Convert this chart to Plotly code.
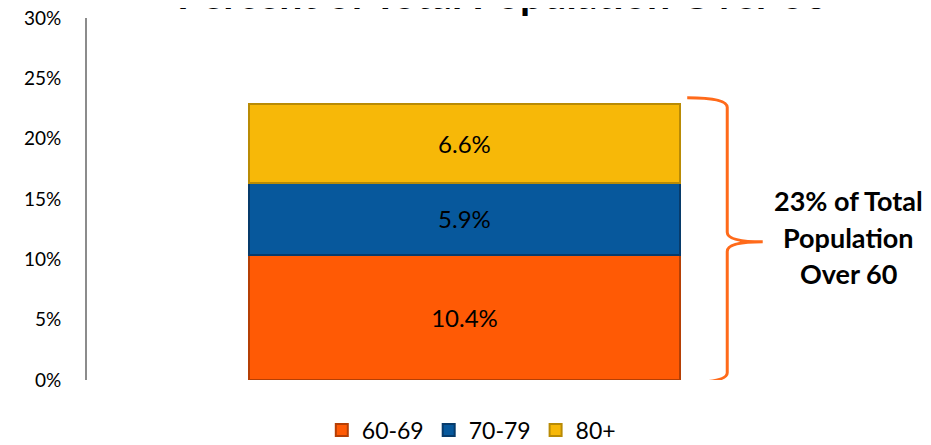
import plotly.graph_objects as go

# Share of total population by age band
categories = ['Over 60']
age_groups = ['60-69', '70-79', '80+']
shares = [10.4, 5.9, 6.6]
bar_colors = ['#FF5A05', '#07589C', '#F7B808']
edge_colors = ['#B53F05', '#073B6B', '#B98B05']
tick_vals = [0, 5, 10, 15, 20, 25, 30]
tick_text = ['0%', '5%', '10%', '15%', '20%', '25%', '30%']
note_lines = ['23% of Total', 'Population', 'Over 60']
title_text = 'Percent of Total Population Over 60'

fig = go.Figure()

for name, val, col, edge in zip(age_groups, shares, bar_colors, edge_colors):
    fig.add_trace(go.Bar(
        x=categories, y=[val], name=name,
        marker=dict(color=col, line=dict(color=edge, width=2)),
        texttemplate='%{y:.1f}%', textposition='inside',
        insidetextanchor='middle',
        textfont=dict(family='Lato', size=24, color='black'),
        hoverinfo='skip'
    ))

total = sum(shares)

# curly brace to the right of the stack
top = total + 0.5
bot = -0.2
mid = total / 2
x0, x1, x2 = 0.795, 0.848, 0.895
d = 0.8
path = (f'M {x0},{top} Q {x1},{top} {x1},{top - d} '
        f'L {x1},{mid + d} Q {x1},{mid} {x2},{mid} '
        f'Q {x1},{mid} {x1},{mid - d} '
        f'L {x1},{bot + d} Q {x1},{bot} {x0},{bot}')
fig.add_shape(type='path', path=path, xref='paper', yref='y',
              line=dict(color='#FF6A1A', width=3))

for i, line in enumerate(note_lines):
    fig.add_annotation(
        x=1.009, xref='paper', y=mid + 0.4 + 3.0 * (1 - i), yref='y',
        text='<b>' + line + '</b>', showarrow=False,
        font=dict(family='Lato', size=27, color='black'),
        xanchor='center', yanchor='middle'
    )

# title sits mostly above the top edge, as in the original
fig.add_annotation(
    x=0.550, xref='paper', y=1.069, yref='paper',
    text='<b>' + title_text + '</b>', showarrow=False,
    font=dict(family='Lato', size=41, color='black'),
    xanchor='center', yanchor='middle'
)

# page body has an 8px margin, so the figure is 8px smaller each way
fig.update_layout(
    barmode='stack',
    bargap=0.43,
    width=923, height=437,
    margin=dict(l=79, r=89, t=10, b=65, autoexpand=False),
    paper_bgcolor='white', plot_bgcolor='white',
    font=dict(family='Lato', size=19, color='black'),
    xaxis=dict(visible=False),
    yaxis=dict(range=[0, 30], tickvals=tick_vals, ticktext=tick_text,
               showgrid=False, zeroline=False, showline=True,
               linecolor='#8C8C8C', linewidth=2, ticks='',
               ticklabelstandoff=20, automargin=False,
               ticklabeloverflow='allow',
               tickfont=dict(family='Lato', size=19, color='black')),
    legend=dict(orientation='h', x=0.509, xanchor='center',
                y=-0.138, yanchor='middle', traceorder='normal',
                font=dict(family='Lato', size=23, color='black'),
                itemwidth=30),
    showlegend=True
)

fig.write_html('out.html')
